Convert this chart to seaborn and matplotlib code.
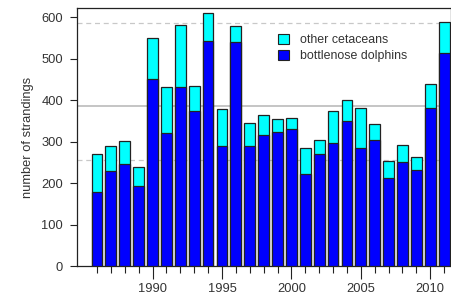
import numpy as np
import pandas as pd
import matplotlib
matplotlib.use("Agg")
import matplotlib.pyplot as plt
from matplotlib.patches import Patch
import seaborn as sns

years = list(range(1986, 2012))
total = [271, 290, 302, 238, 549, 432, 580, 434, 611, 378, 578, 346, 365,
         354, 356, 284, 303, 373, 400, 381, 342, 253, 291, 262, 438, 589]
bottlenose = [178, 229, 247, 192, 451, 322, 431, 373, 542, 290, 540, 290, 317,
              324, 330, 222, 271, 297, 349, 284, 304, 213, 251, 232, 381, 513]
mean_line = 385
band_low, band_high = 255, 587

df = pd.DataFrame({"year": years, "total": total, "bottlenose": bottlenose})

sns.set_style("white")
plt.rcParams["font.family"] = ["Liberation Sans", "DejaVu Sans"]
txt = "#333333"
fs = 9.3

fig = plt.figure(figsize=(4.52, 2.98), dpi=100)
ax = fig.add_axes([0.170, 0.107, 0.828, 0.866])

# reference lines behind the bars
ax.axhline(mean_line, color="#c0c0c0", lw=1.3, zorder=0)
ax.axhline(band_high, color="#c8c8c8", lw=0.9, ls=(0, (4, 3)), zorder=0)
ax.axhline(band_low, color="#c8c8c8", lw=0.9, ls=(0, (4, 3)), zorder=0)

sns.barplot(data=df, x="year", y="total", native_scale=True, width=0.78,
            color="#00ffff", saturation=1, edgecolor="#222222", linewidth=0.9,
            ax=ax, zorder=2)
sns.barplot(data=df, x="year", y="bottlenose", native_scale=True, width=0.78,
            color="#0000ff", saturation=1, edgecolor="#222222", linewidth=0.9,
            ax=ax, zorder=3)

ax.set_xlim(1984.55, 2011.5)
ax.set_ylim(0, 622)
ax.set_yticks(range(0, 601, 100))
ax.set_xticks([1990, 1995, 2000, 2005, 2010])
ax.set_xticks([y for y in years if y % 5 != 0], minor=True)
ax.set_xlabel("")
ax.set_ylabel("number of strandings", fontsize=fs, color=txt, labelpad=5)

ax.tick_params(axis="y", which="major", direction="out", length=5, width=0.8,
               pad=5, labelsize=fs, labelcolor=txt, color="#222222", left=True)
ax.tick_params(axis="x", which="major", direction="out", length=9.5, width=0.8,
               pad=3, labelsize=fs, labelcolor=txt, color="#222222", bottom=True)
ax.tick_params(axis="x", which="minor", direction="out", length=4.8, width=0.8,
               color="#222222", bottom=True)

for s in ax.spines.values():
    s.set_color("#222222")
    s.set_linewidth(0.9)

handles = [Patch(facecolor="#00ffff", edgecolor="#222222", lw=0.8, label="other cetaceans"),
           Patch(facecolor="#0000ff", edgecolor="#222222", lw=0.8, label="bottlenose dolphins")]
leg = ax.legend(handles=handles, loc="upper left", bbox_to_anchor=(0.525, 0.918),
                frameon=False, fontsize=8.9, handlelength=0.85, handleheight=0.85,
                handletextpad=0.9, labelspacing=0.3, borderaxespad=0)
for t in leg.get_texts():
    t.set_color(txt)

fig.savefig("out.png", dpi=100)
